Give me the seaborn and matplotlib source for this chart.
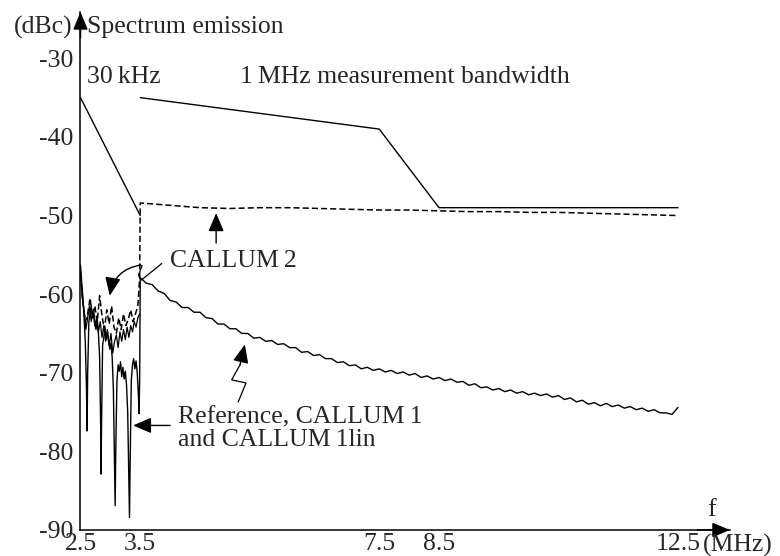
import numpy as np
import pandas as pd
import matplotlib
matplotlib.use('Agg')
import matplotlib.pyplot as plt
import seaborn as sns

# Spectrum emission mask (dBc), 30 kHz part and 1 MHz part
mask_lo_f = [2.5, 3.5]
mask_lo_db = [-35, -50]
mask_hi_f = [3.5, 7.5, 8.5, 12.5]
mask_hi_db = [-35, -39, -49, -49]

# Reference / CALLUM 1 / CALLUM 1lin, inside the channel edge (2.5 - 3.5 MHz)
ref_in_f = [2.50, 2.52, 2.54, 2.56, 2.58, 2.60, 2.61, 2.62, 2.64, 2.66,
            2.68, 2.70, 2.72, 2.74, 2.76, 2.78, 2.80, 2.82, 2.84, 2.845,
            2.85, 2.87, 2.89, 2.91, 2.93, 2.95, 2.97, 2.99, 3.01, 3.03,
            3.05, 3.07, 3.08, 3.09, 3.11, 3.13, 3.15, 3.17, 3.19, 3.21,
            3.23, 3.25, 3.27, 3.29, 3.31, 3.32, 3.33, 3.35, 3.37, 3.39,
            3.41, 3.43, 3.45, 3.47, 3.48, 3.49]
ref_in_db = [-56.3, -58.5, -60.4, -63.0, -66.0, -72.0, -77.4, -70.0, -63.5, -62.5,
             -61.5, -63.0, -62.0, -63.8, -64.5, -63.2, -65.0, -68.0, -78.0, -82.9,
             -78.0, -66.5, -65.5, -64.3, -65.8, -64.8, -66.0, -67.0, -66.2, -68.0,
             -72.0, -82.0, -86.9, -80.0, -71.0, -69.0, -69.8, -68.6, -70.5, -69.3,
             -70.8, -69.8, -71.5, -75.0, -84.0, -88.4, -82.0, -71.0, -69.0, -68.2,
             -69.5, -68.5, -70.0, -73.0, -75.2, -71.0]

c1_in_f = [2.50, 2.53, 2.56, 2.59, 2.62, 2.65, 2.68, 2.71, 2.74, 2.77,
           2.80, 2.83, 2.86, 2.89, 2.92, 2.95, 2.98, 3.01, 3.04, 3.07,
           3.10, 3.13, 3.16, 3.19, 3.22, 3.25, 3.28, 3.31, 3.34, 3.37,
           3.40, 3.43, 3.46, 3.49]
c1_in_db = [-57.0, -60.5, -62.0, -64.5, -63.0, -61.5, -63.5, -62.2, -64.0, -63.0,
            -64.8, -63.5, -65.5, -64.0, -66.0, -64.5, -66.5, -65.0, -67.5, -66.0,
            -65.2, -66.8, -64.8, -66.0, -64.5, -65.8, -64.2, -65.5, -64.0, -64.8,
            -63.5, -64.2, -63.0, -62.5]

# Reference outside the channel (3.5 - 12.5 MHz, 0.1 MHz steps)
ref_out_f = np.linspace(3.5, 12.5, 91)
ref_out_db = [-57.9, -58.6, -58.8, -59.6, -59.9, -60.8, -61.0, -61.7, -61.7, -62.3,
              -62.3, -63.0, -63.1, -63.8, -63.8, -64.4, -64.4, -65.0, -65.0, -65.6,
              -65.5, -66.0, -65.9, -66.4, -66.3, -66.8, -66.8, -67.4, -67.3, -67.8,
              -67.7, -68.2, -68.2, -68.7, -68.6, -69.1, -69.0, -69.5, -69.3, -69.7,
              -69.5, -69.9, -69.7, -70.1, -69.9, -70.3, -70.1, -70.6, -70.4, -70.8,
              -70.6, -71.0, -70.8, -71.2, -71.1, -71.6, -71.4, -71.9, -71.8, -72.2,
              -72.0, -72.4, -72.2, -72.6, -72.4, -72.8, -72.6, -72.9, -72.7, -73.1,
              -72.9, -73.4, -73.2, -73.7, -73.5, -74.0, -73.8, -74.2, -73.9, -74.3,
              -74.1, -74.5, -74.3, -74.7, -74.5, -74.9, -74.7, -75.1, -75.1, -75.3,
              -74.4]

# CALLUM 2 (dashed)
c2_in_f = [2.50, 2.54, 2.58, 2.62, 2.66, 2.70, 2.74, 2.78, 2.82, 2.86,
           2.90, 2.94, 2.98, 3.02, 3.06, 3.10, 3.14, 3.18, 3.22, 3.26,
           3.30, 3.34, 3.38, 3.42, 3.46, 3.49]
c2_in_db = [-57.5, -61.0, -63.5, -62.5, -60.5, -62.8, -61.5, -63.5, -60.2, -62.8,
            -64.5, -62.0, -63.8, -61.5, -64.2, -65.0, -63.0, -64.5, -62.5, -64.0,
            -63.2, -62.0, -63.5, -62.5, -61.5, -58.0]
c2_out_f = [3.5, 4.0, 4.5, 5.0, 5.5, 6.0, 6.5, 7.0, 7.5, 8.0,
            8.5, 9.0, 9.5, 10.0, 10.5, 11.0, 11.5, 12.0, 12.5]
c2_out_db = [-48.4, -48.7, -49.0, -49.1, -49.0, -49.0, -49.1, -49.2, -49.3, -49.3,
             -49.4, -49.5, -49.5, -49.6, -49.6, -49.7, -49.8, -49.9, -50.0]

xticks = [2.5, 3.5, 7.5, 8.5, 12.5]
yticks = [-90, -80, -70, -60, -50, -40, -30]

ref = pd.DataFrame({'f': list(ref_in_f) + list(ref_out_f), 'dB': ref_in_db + ref_out_db})
c1 = pd.DataFrame({'f': c1_in_f, 'dB': c1_in_db})
c2 = pd.DataFrame({'f': c2_in_f + c2_out_f, 'dB': c2_in_db + c2_out_db})

sns.set_style('white')
plt.rcParams['font.family'] = ['Liberation Serif', 'DejaVu Serif']
plt.rcParams['font.size'] = 18.5

fig = plt.figure(figsize=(7.8, 5.56), dpi=100)
ax = fig.add_axes([0.1032, 0.0468, 0.8327, 0.9317])

lw = 1.0
sns.lineplot(x=mask_lo_f, y=mask_lo_db, ax=ax, color='k', lw=lw, sort=False, estimator=None)
sns.lineplot(x=mask_hi_f, y=mask_hi_db, ax=ax, color='k', lw=lw, sort=False, estimator=None)
sns.lineplot(data=c1, x='f', y='dB', ax=ax, color='k', lw=0.9, sort=False, estimator=None)
sns.lineplot(data=ref, x='f', y='dB', ax=ax, color='k', lw=lw, sort=False, estimator=None)
sns.lineplot(data=c2, x='f', y='dB', ax=ax, color='k', lw=1.1, sort=False, estimator=None,
             linestyle=(0, (4, 2)))

ax.set_xlim(2.5, 13.37)
ax.set_ylim(-90, -24.1)
ax.set_xticks(xticks)
ax.set_xticklabels([f'{t:g}' for t in xticks])
ax.set_yticks(yticks)
ax.set_yticklabels([f'{t:d}' for t in yticks])
ax.tick_params(axis='x', direction='in', length=5, width=1, pad=2, labelsize=18.5)
ax.tick_params(axis='y', direction='in', length=5, width=1, pad=5, labelsize=18.5)
ax.set_xlabel('')
ax.set_ylabel('')
for s in ['top', 'right']:
    ax.spines[s].set_visible(False)
for s in ['left', 'bottom']:
    ax.spines[s].set_linewidth(1.1)
    ax.spines[s].set_color('k')

# axis arrows
head = dict(arrowstyle='-|>,head_length=0.6,head_width=0.25', lw=1.1, color='k',
            mutation_scale=18, shrinkA=0, shrinkB=0)
ax.annotate('', xy=(1, 0), xytext=(0.95, 0), xycoords='axes fraction', arrowprops=head,
            annotation_clip=False)
ax.annotate('', xy=(0, 1), xytext=(0, 0.95), xycoords='axes fraction', arrowprops=head,
            annotation_clip=False)

# labels
ax.text(2.36, -26.8, '(dBc)', ha='right', va='baseline', clip_on=False)
ax.text(2.614, -26.8, 'Spectrum emission', ha='left', va='baseline', clip_on=False)
ax.text(2.614, -33.2, '30\u2009kHz', ha='left', va='baseline')
ax.text(5.17, -33.2, '1\u2009MHz measurement bandwidth', ha='left', va='baseline')
ax.text(12.99, -88.2, 'f', ha='left', va='baseline', clip_on=False)
ax.text(12.92, -92.7, '(MHz)', ha='left', va='baseline', clip_on=False)

ax.text(4.0, -56.6, 'CALLUM\u20092', ha='left', va='baseline')
ax.text(4.13, -76.4, 'Reference, CALLUM\u20091', ha='left', va='baseline')
ax.text(4.13, -79.3, 'and CALLUM\u20091lin', ha='left', va='baseline')

arr = dict(arrowstyle='-|>,head_length=0.7,head_width=0.3', lw=1.0, color='k',
           mutation_scale=16, shrinkA=0, shrinkB=0)
# CALLUM 2 -> dashed curve
ax.annotate('', xy=(4.77, -49.7), xytext=(4.77, -53.5), arrowprops=arr)
# CALLUM 2 -> dashed curve inside channel (squiggle)
ax.plot([3.86, 3.52, 3.47, 3.53, 3.5], [-56.1, -58.2, -57.6, -56.4, -56.3],
        color='k', lw=0.9)
ax.annotate('', xy=(2.99, -60.2), xytext=(3.5, -56.3),
            arrowprops=dict(arr, connectionstyle='arc3,rad=0.35'))
# Reference -> channel edge
ax.annotate('', xy=(3.38, -76.7), xytext=(4.0, -76.7), arrowprops=arr)
# Reference -> adjacent curve (squiggle)
ax.plot([5.14, 5.27, 5.03, 5.17], [-73.7, -71.3, -70.9, -69.0], color='k', lw=0.9)
ax.annotate('', xy=(5.25, -66.4), xytext=(5.17, -69.0), arrowprops=arr)

fig.savefig('out.png', dpi=100)
